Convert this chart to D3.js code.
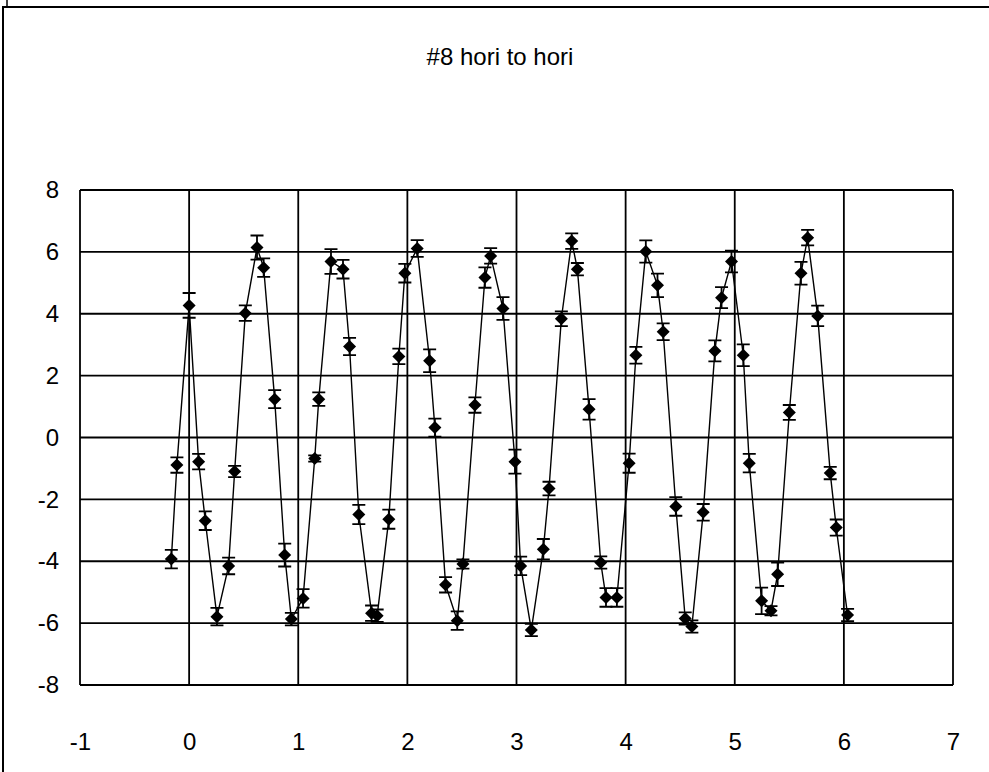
<!DOCTYPE html>
<html lang="en">
<head>
<meta charset="UTF-8">
<title>#8 hori to hori</title>
<script src="https://d3js.org/d3.v7.min.js"></script>
<style>
    body { margin: 0; background: #fff; }
    svg { display: block; }
    text { font-family: Arial, "Liberation Sans", sans-serif; fill: #000; }
</style>
</head>
<body>
<svg id="chart" width="989" height="772"></svg>
<script>
    const title = "#8 hori to hori";

    const xTicks = [-1, 0, 1, 2, 3, 4, 5, 6, 7];
    const yTicks = [-8, -6, -4, -2, 0, 2, 4, 6, 8];

    // point by point
    const xValues = [-0.163, -0.112, 0.0, 0.087, 0.148, 0.255, 0.362, 0.417, 0.515, 0.622,
        0.683, 0.784, 0.876, 0.937, 1.044, 1.151, 1.188, 1.30, 1.41, 1.47,
        1.555, 1.672, 1.723, 1.83, 1.922, 1.977, 2.09, 2.204, 2.252, 2.35,
        2.457, 2.509, 2.619, 2.711, 2.763, 2.876, 2.986, 3.038, 3.136, 3.246,
        3.298, 3.411, 3.506, 3.558, 3.665, 3.772, 3.82, 3.92, 4.032, 4.094,
        4.185, 4.292, 4.344, 4.46, 4.546, 4.607, 4.711, 4.818, 4.879, 4.97,
        5.078, 5.133, 5.246, 5.332, 5.393, 5.50, 5.607, 5.668, 5.76, 5.875,
        5.93, 6.034];

    const yValues = [-3.93, -0.89, 4.27, -0.78, -2.69, -5.79, -4.15, -1.10, 4.02, 6.14,
        5.49, 1.24, -3.80, -5.87, -5.20, -0.68, 1.24, 5.69, 5.44, 2.94,
        -2.49, -5.68, -5.76, -2.64, 2.62, 5.31, 6.11, 2.48, 0.32, -4.76,
        -5.92, -4.09, 1.05, 5.17, 5.87, 4.17, -0.78, -4.15, -6.22, -3.61,
        -1.65, 3.84, 6.35, 5.44, 0.91, -4.04, -5.17, -5.17, -0.83, 2.66,
        6.01, 4.92, 3.42, -2.23, -5.85, -6.11, -2.42, 2.80, 4.52, 5.69,
        2.66, -0.83, -5.28, -5.60, -4.42, 0.81, 5.31, 6.46, 3.93, -1.15,
        -2.91, -5.74];

    const yErrors = [0.30, 0.25, 0.40, 0.25, 0.30, 0.28, 0.27, 0.18, 0.25, 0.39,
        0.30, 0.29, 0.37, 0.20, 0.30, 0.10, 0.22, 0.40, 0.30, 0.28,
        0.31, 0.25, 0.20, 0.31, 0.25, 0.30, 0.27, 0.37, 0.29, 0.25,
        0.30, 0.15, 0.25, 0.33, 0.25, 0.37, 0.39, 0.30, 0.20, 0.33,
        0.22, 0.24, 0.25, 0.20, 0.33, 0.20, 0.30, 0.30, 0.31, 0.27,
        0.36, 0.38, 0.27, 0.30, 0.20, 0.20, 0.27, 0.34, 0.34, 0.35,
        0.35, 0.30, 0.43, 0.15, 0.38, 0.24, 0.37, 0.25, 0.33, 0.20,
        0.26, 0.20];

    const points = xValues.map((x, i) => ({ x: x, y: yValues[i], e: yErrors[i] }));

    const svg = d3.select("#chart");

    // chart area frame (only top and left edges show)
    svg.append("line").attr("x1", 2).attr("x2", 989).attr("y1", 7).attr("y2", 7)
        .attr("stroke", "#000").attr("stroke-width", 2);
    svg.append("line").attr("x1", 3).attr("x2", 3).attr("y1", 6).attr("y2", 772)
        .attr("stroke", "#000").attr("stroke-width", 2);
    svg.append("line").attr("x1", 7).attr("x2", 7).attr("y1", 0).attr("y2", 7)
        .attr("stroke", "#000").attr("stroke-width", 1.5);

    const plot = { left: 80, right: 953, top: 190, bottom: 685 };

    const x = d3.scaleLinear().domain([-1, 7]).range([plot.left, plot.right]);
    const y = d3.scaleLinear().domain([-8, 8]).range([plot.bottom, plot.top]);

    svg.append("text")
        .attr("x", 500).attr("y", 65)
        .attr("text-anchor", "middle")
        .style("font-size", "24px")
        .text(title);

    // grid
    const grid = svg.append("g").attr("stroke", "#000").attr("stroke-width", 1.8);
    grid.selectAll(".gx").data(xTicks).join("line")
        .attr("x1", d => x(d)).attr("x2", d => x(d))
        .attr("y1", plot.top).attr("y2", plot.bottom);
    grid.selectAll(".gy").data(yTicks).join("line")
        .attr("x1", plot.left).attr("x2", plot.right)
        .attr("y1", d => y(d)).attr("y2", d => y(d));

    // axes labels, no tick marks
    const xAxis = svg.append("g")
        .attr("transform", `translate(0,${plot.bottom})`)
        .call(d3.axisBottom(x).tickValues(xTicks).tickSize(0).tickPadding(48).tickFormat(d => String(d)));
    const yAxis = svg.append("g")
        .attr("transform", `translate(${plot.left},0)`)
        .call(d3.axisLeft(y).tickValues(yTicks).tickSize(0).tickPadding(21).tickFormat(d => String(d)));
    [xAxis, yAxis].forEach(a => {
        a.select(".domain").remove();
        a.selectAll("text").style("font-size", "24px").attr("font-family", null);
    });

    // connecting line
    svg.append("path")
        .datum(points)
        .attr("fill", "none")
        .attr("stroke", "#000")
        .attr("stroke-width", 1.4)
        .attr("d", d3.line().x(d => x(d.x)).y(d => y(d.y)));

    // error bars
    const cap = 6.5;
    const bars = svg.append("g").attr("stroke", "#000").attr("stroke-width", 1.8);
    bars.selectAll("path").data(points).join("path")
        .attr("fill", "none")
        .attr("d", d => {
            const cx = x(d.x), t = y(d.y + d.e), b = y(d.y - d.e);
            return `M${cx},${t}V${b}M${cx - cap},${t}H${cx + cap}M${cx - cap},${b}H${cx + cap}`;
        });

    // diamond markers
    const r = 6.5;
    svg.append("g").selectAll("path").data(points).join("path")
        .attr("fill", "#000")
        .attr("transform", d => `translate(${x(d.x)},${y(d.y)})`)
        .attr("d", `M0,${-r}L${r},0L0,${r}L${-r},0Z`);
</script>
</body>
</html>
